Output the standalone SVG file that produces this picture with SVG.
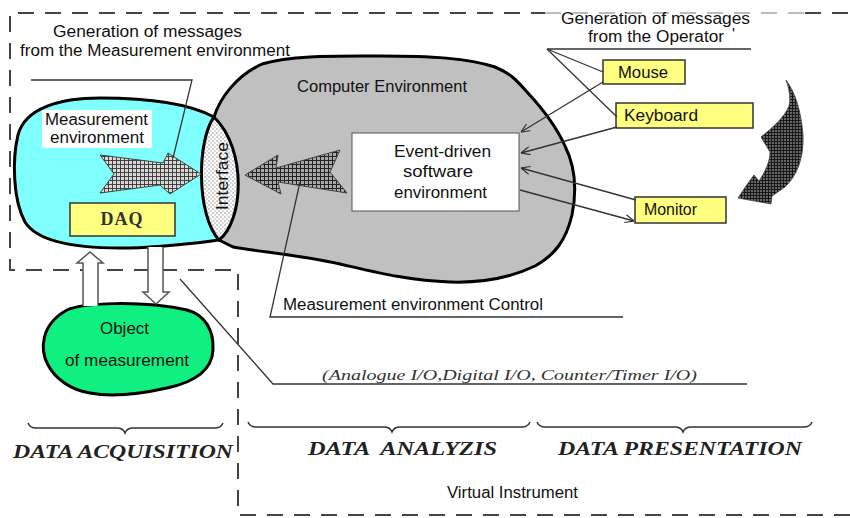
<svg xmlns="http://www.w3.org/2000/svg" width="850" height="518" viewBox="0 0 850 518">
<defs>
<style>
.t{font-family:"Liberation Sans",Arial,sans-serif;font-size:16px;fill:#111}
.blob{stroke:#000;stroke-width:3;stroke-linejoin:round}
.box{fill:#ffff80;stroke:#333;stroke-width:1.5}
.frame{fill:none;stroke:#444;stroke-width:2;stroke-dasharray:16 11}
.lead{fill:none;stroke:#333;stroke-width:1.3}
.cap{font-family:"Liberation Serif","Times New Roman",serif;font-style:italic;font-weight:bold;font-size:19px;fill:#222}
.brace{fill:none;stroke:#333;stroke-width:1.5}
</style>
<pattern id="hatch" width="4" height="4" patternUnits="userSpaceOnUse"><rect width="4" height="4" fill="#a8a8a8"/><path d="M0,0.5H4M0.5,0V4" stroke="#222" stroke-width="1"/></pattern>
<pattern id="hatchL" width="4" height="4" patternUnits="userSpaceOnUse"><rect width="4" height="4" fill="#d8d8d8"/><path d="M0,0.5H4M0.5,0V4" stroke="#333" stroke-width="0.9"/></pattern>
<pattern id="hatchD" width="3" height="3" patternUnits="userSpaceOnUse"><rect width="3" height="3" fill="#666"/><path d="M0,0.5H3M0.5,0V3" stroke="#111" stroke-width="0.9"/></pattern>
<pattern id="dots" width="4" height="4" patternUnits="userSpaceOnUse"><rect width="4" height="4" fill="#fff"/><circle cx="1" cy="1" r="0.7" fill="#777"/><circle cx="3" cy="3" r="0.7" fill="#999"/></pattern>
<marker id="arr" viewBox="0 0 10 10" refX="10" refY="5" markerWidth="9" markerHeight="9" orient="auto" markerUnits="userSpaceOnUse"><path d="M0,0.5 L10,5 L0,9.5" fill="none" stroke="#333" stroke-width="1.3"/></marker>
</defs>
<rect width="850" height="518" fill="#fff"/>

<g id="frame">
<path class="frame" d="M850,515 H238 V270 H10 V13 H545"/>
<path class="frame" d="M545,13 H805" style="stroke:#bbb"/>
<path class="frame" d="M805,13 H850"/>
</g>

<g id="computer-environment">
<path class="blob" fill="#c0c0c0" d="M214,117 C220,98 236,76 262,64 C292,55 335,56 380,56 C430,56 468,58 495,67 C512,74 518,82 527,92 C542,108 556,126 565,146 C575,166 577,190 572,215 C566,240 555,255 535,266 C510,278 480,283 450,282 C410,281 375,272 340,264 C300,255 262,252 233,247 L219,240 Z"/>
<text class="t" x="297" y="92" textLength="170" lengthAdjust="spacingAndGlyphs">Computer Environment</text>
</g>

<g id="measurement-environment">
<path class="blob" fill="#80ffff" d="M214,117 C190,104 150,98 100,98 C60,98 25,108 18,135 C12,160 13,200 25,222 C38,243 80,248 120,248 C160,248 195,243 219,240 Z"/>
<rect x="42" y="110" width="110" height="38" fill="#fff"/>
<text class="t" x="45" y="125" textLength="103" lengthAdjust="spacingAndGlyphs">Measurement</text>
<text class="t" x="50" y="143" textLength="94" lengthAdjust="spacingAndGlyphs">environment</text>
</g>

<g id="interface">
<path class="blob" fill="url(#dots)" d="M214,117 C197,140 196,215 219,240 C243,222 248,150 214,117 Z"/>
<text class="t" transform="translate(228,210) rotate(-90)" x="0" y="0" textLength="68" lengthAdjust="spacingAndGlyphs">Interface</text>
</g>

<g id="daq">
<rect class="box" x="70" y="203" width="105" height="33"/>
<text x="122" y="225" text-anchor="middle" font-family="'Liberation Serif','Times New Roman',serif" font-size="18" font-weight="bold" fill="#333" letter-spacing="1">DAQ</text>
</g>

<g id="event-driven-software">
<rect x="352" y="133" width="167" height="78" fill="#fff" stroke="#555" stroke-width="1"/>
<text class="t" x="394" y="157" textLength="97" lengthAdjust="spacingAndGlyphs">Event-driven</text>
<text class="t" x="403" y="177" textLength="70" lengthAdjust="spacingAndGlyphs">software</text>
<text class="t" x="394" y="198" textLength="93" lengthAdjust="spacingAndGlyphs">environment</text>
</g>

<g id="object-of-measurement">
<path class="blob" fill="#10f080" d="M67,310 C82,303 140,300 187,310 C205,315 214,330 213,350 C212,370 195,382 167,388 C140,394 110,397 90,393 C70,390 55,378 48,365 C40,350 40,325 67,310 Z"/>
<text class="t" x="100" y="334" textLength="49" lengthAdjust="spacingAndGlyphs">Object</text>
<text class="t" x="65" y="366" textLength="124" lengthAdjust="spacingAndGlyphs">of measurement</text>
</g>

<g id="mouse">
<rect class="box" x="603" y="60" width="82" height="24"/>
<text class="t" x="618" y="78" textLength="50" lengthAdjust="spacingAndGlyphs">Mouse</text>
</g>
<g id="keyboard">
<rect class="box" x="616" y="103" width="137" height="25"/>
<text class="t" x="624" y="121" textLength="74" lengthAdjust="spacingAndGlyphs">Keyboard</text>
</g>
<g id="monitor">
<rect class="box" x="635" y="197" width="91" height="26"/>
<text class="t" x="644" y="215" textLength="53" lengthAdjust="spacingAndGlyphs">Monitor</text>
</g>

<g id="labels">
<text class="t" x="53" y="37" textLength="189" lengthAdjust="spacingAndGlyphs">Generation of messages</text>
<text class="t" x="20" y="56" textLength="270" lengthAdjust="spacingAndGlyphs">from the Measurement environment</text>
<text class="t" x="561" y="24" textLength="189" lengthAdjust="spacingAndGlyphs">Generation of messages</text>
<text class="t" x="588" y="42" textLength="136" lengthAdjust="spacingAndGlyphs">from the Operator</text>
<text class="t" x="732" y="40" font-size="10">'</text>
<text class="t" x="283" y="310" textLength="260" lengthAdjust="spacingAndGlyphs">Measurement environment Control</text>
<text x="322" y="380" font-family="'Liberation Serif','Times New Roman',serif" font-style="italic" font-size="15" fill="#333" textLength="375" lengthAdjust="spacingAndGlyphs">(Analogue I/O,Digital I/O, Counter/Timer I/O)</text>
<text class="cap" x="13" y="458" textLength="220" lengthAdjust="spacingAndGlyphs">DATA ACQUISITION</text>
<text class="cap" x="308" y="455" textLength="189" lengthAdjust="spacingAndGlyphs" xml:space="preserve">DATA  ANALYZIS</text>
<text class="cap" x="558" y="455" textLength="244" lengthAdjust="spacingAndGlyphs">DATA PRESENTATION</text>
<text class="t" x="447" y="498" textLength="131" lengthAdjust="spacingAndGlyphs">Virtual Instrument</text>
<path class="brace" d="M28,423 Q30,428 36,428 L117,428 Q123,428 125,433 Q127,428 133,428 L215,428 Q221,428 223,423"/>
<path class="brace" d="M248,422 Q250,427 256,427 L384,427 Q390,427 392,432 Q394,427 400,427 L522,427 Q528,427 530,422"/>
<path class="brace" d="M537,422 Q539,427 545,427 L675,427 Q681,427 683,432 Q685,427 691,427 L804,427 Q810,427 812,422"/>
</g>

<g id="connectors">
<path d="M83,306 V263 H77 L90,252 L103,263 H98 V306 Z" fill="#fff"/>
<path d="M83,306 V263 H77 L90,252 L103,263 H98 V306" fill="none" stroke="#555" stroke-width="1.5"/>
<path d="M148,247 V292 H143 L156,304 L169,292 H163 V247 Z" fill="#fff"/>
<path d="M148,247 V292 H143 L156,304 L169,292 H163 V247" fill="none" stroke="#555" stroke-width="1.5"/>
<path d="M100,155 L163,163 L168,153 L201,174 L170,194 L160,185 L100,193 L114,174 Z" fill="url(#hatchL)" stroke="#444" stroke-width="1"/>
<path d="M245,175 L278,155 L276,168 L340,150 L330,172 L347,193 L278,182 L281,194 Z" fill="url(#hatch)" stroke="#444" stroke-width="1"/>
<path d="M786,80 C795,92 801,110 803,135 C804,158 797,176 785,187 L772,196 L771,204 L738,198 L746,186 L754,175 L759,181 C765,172 770,162 770,152 L761,137 C772,128 784,118 789,106 C791,98 789,88 786,80 Z" fill="url(#hatchD)" stroke="#444" stroke-width="0.8"/>
<polyline class="lead" points="31,80 192,80 173,158"/>
<polyline class="lead" points="751,49 547,49 603,72"/>
<line class="lead" x1="547" y1="49" x2="617" y2="117"/>
<polyline class="lead" points="300,182 270,317 623,317"/>
<polyline class="lead" points="180,279 273,384 747,384"/>
<line class="lead" x1="603" y1="82" x2="521" y2="132" marker-end="url(#arr)"/>
<line class="lead" x1="617" y1="127" x2="521" y2="153" marker-end="url(#arr)"/>
<line class="lead" x1="636" y1="200" x2="521" y2="168" marker-end="url(#arr)"/>
<line class="lead" x1="520" y1="190" x2="634" y2="221" marker-end="url(#arr)"/>
</g>
</svg>
